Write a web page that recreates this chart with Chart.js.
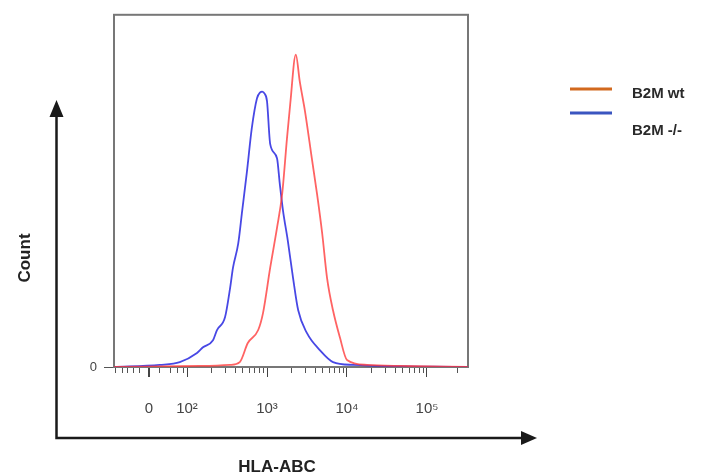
<!DOCTYPE html>
<html><head><meta charset="utf-8">
<script src="https://cdn.jsdelivr.net/npm/chart.js@4.4.1/dist/chart.umd.min.js"></script>
<style>html,body{margin:0;padding:0;background:#fff}canvas{display:block}</style>
</head><body>
<canvas id="c" width="705" height="476"></canvas>
<script>
// Display positions on a biexponential axis (1 unit = one decade; 2 = 10^2)
const seriesNames = ['B2M wt', 'B2M -/-'];
const wtX = [1.09, 2.16, 2.54, 2.66, 2.76, 2.89, 2.95, 3.04, 3.125, 3.19, 3.25, 3.29, 3.36, 3.41, 3.475, 3.56, 3.625, 3.69, 3.75, 3.825, 3.91, 4.0, 4.25, 4.66, 5.51];
const wtY = [0, 0.3, 0.6, 1.4, 6.8, 10.5, 15.3, 28.2, 39.5, 49.2, 65, 74.6, 88.7, 81, 72.6, 59.3, 49.2, 37.9, 25.4, 16.1, 8.5, 2, 0.6, 0.3, 0];
const koX = [1.09, 1.66, 1.91, 2.125, 2.2, 2.325, 2.375, 2.475, 2.54, 2.575, 2.64, 2.69, 2.75, 2.81, 2.875, 2.915, 2.94, 2.97, 3.0, 3.04, 3.125, 3.16, 3.2, 3.26, 3.325, 3.39, 3.5, 3.66, 3.825, 4.075, 5.51];
const koY = [0, 0.6, 1.4, 4, 5.6, 7.6, 10.5, 14.1, 22.6, 28.2, 35, 44.4, 55.6, 67.8, 76.3, 78.0, 78.2, 77.6, 75.5, 63.3, 59.3, 52, 44.4, 35.9, 25.4, 16.1, 9.6, 4.8, 1.4, 0.6, 0];
const majorTickValues = [1.525, 2, 3, 4, 5];
const majorTickLabels = ['0', '10²', '10³', '10⁴', '10⁵'];
const minorTickValues = [1.1, 1.19, 1.26, 1.325, 1.41, 1.66, 1.79, 1.875, 1.95,
  2.301, 2.477, 2.602, 2.699, 2.778, 2.845, 2.903, 2.954,
  3.301, 3.477, 3.602, 3.699, 3.778, 3.845, 3.903, 3.954,
  4.301, 4.477, 4.602, 4.699, 4.778, 4.845, 4.903, 4.954, 5.38];
const yTickValues = [0];
const yTickLabels = ['0'];
const xTitle = 'HLA-ABC';
const yTitle = 'Count';
const lineColors = ['rgba(255,60,60,0.8)', 'rgba(40,40,225,0.85)'];
const legendColors = ['#d2691e', '#3a55c0'];

const FONT = '"Liberation Sans", Arial, "DejaVu Sans", sans-serif';

const frame = {
  id: 'frame',
  beforeDatasetsDraw(chart) {
    const {ctx, chartArea: a} = chart;
    ctx.save();
    ctx.strokeStyle = '#777';
    ctx.lineWidth = 2;
    ctx.strokeRect(a.left, a.top, a.right - a.left, a.bottom - a.top);
    ctx.restore();
  },
  afterDraw(chart) {
    const ctx = chart.ctx;
    ctx.save();
    // outer arrows
    ctx.strokeStyle = '#1a1a1a';
    ctx.fillStyle = '#1a1a1a';
    ctx.lineWidth = 2.5;
    ctx.beginPath();
    ctx.moveTo(56.5, 115); ctx.lineTo(56.5, 438); ctx.lineTo(524, 438);
    ctx.stroke();
    ctx.beginPath();
    ctx.moveTo(56.5, 100); ctx.lineTo(49.5, 117); ctx.lineTo(63.5, 117); ctx.closePath(); ctx.fill();
    ctx.beginPath();
    ctx.moveTo(537, 438); ctx.lineTo(521, 431); ctx.lineTo(521, 445); ctx.closePath(); ctx.fill();
    // titles
    ctx.font = 'bold 17px ' + FONT;
    ctx.fillStyle = '#222';
    ctx.textAlign = 'center';
    ctx.textBaseline = 'middle';
    ctx.fillText(xTitle, 277, 467);
    ctx.save();
    ctx.translate(25, 258);
    ctx.rotate(-Math.PI / 2);
    ctx.fillText(yTitle, 0, 0);
    ctx.restore();
    // legend
    ctx.font = 'bold 15px ' + FONT;
    const lineY = [89, 113], textY = [94, 131];
    seriesNames.forEach((n, i) => {
      ctx.strokeStyle = legendColors[i];
      ctx.lineWidth = 3;
      ctx.beginPath(); ctx.moveTo(570, lineY[i]); ctx.lineTo(612, lineY[i]); ctx.stroke();
      ctx.fillStyle = '#2a2a2a';
      ctx.textAlign = 'left';
      ctx.fillText(n, 632, textY[i]);
    });
    ctx.restore();
  }
};

const mk = (xs, ys) => xs.map((x, i) => ({x, y: ys[i]}));

new Chart(document.getElementById('c'), {
  type: 'line',
  data: {
    datasets: [
      {label: seriesNames[0], data: mk(wtX, wtY), borderColor: lineColors[0], borderWidth: 1.8, pointRadius: 0, cubicInterpolationMode: 'monotone', fill: false},
      {label: seriesNames[1], data: mk(koX, koY), borderColor: lineColors[1], borderWidth: 1.8, pointRadius: 0, cubicInterpolationMode: 'monotone', fill: false}
    ]
  },
  options: {
    responsive: false,
    animation: false,
    layout: {padding: {left: 0, top: 13, right: 237, bottom: 0}},
    plugins: {legend: {display: false}, tooltip: {enabled: false}},
    scales: {
      x2: {
        type: 'linear', position: 'bottom', weight: 0, min: 1.0875, max: 5.5125,
        afterFit(s) { s.height = 0; },
        afterBuildTicks(s) { s.ticks = minorTickValues.map(v => ({value: v})); },
        grid: {drawOnChartArea: false, tickLength: 6, color: '#555', lineWidth: 1},
        border: {display: false},
        ticks: {autoSkip: false, maxRotation: 0, minRotation: 0, callback: () => ''}
      },
      x: {
        type: 'linear', position: 'bottom', weight: 1, min: 1.0875, max: 5.5125,
        afterFit(s) { s.height = 109; },
        afterBuildTicks(s) { s.ticks = majorTickValues.map(v => ({value: v})); },
        grid: {drawOnChartArea: false, tickLength: 10, color: '#444', lineWidth: (c) => c.index === 0 ? 2 : 1},
        border: {display: false},
        ticks: {autoSkip: false, maxRotation: 0, minRotation: 0, padding: 23, color: '#444',
          font: {family: FONT, size: 15},
          callback: (v, i) => majorTickLabels[i]}
      },
      y: {
        type: 'linear', position: 'left', min: 0, max: 100,
        afterFit(s) { s.width = 114; },
        afterBuildTicks(s) { s.ticks = yTickValues.map(v => ({value: v})); },
        grid: {drawOnChartArea: false, tickLength: 10, color: '#555'},
        border: {display: false},
        ticks: {padding: 7, color: '#444', font: {family: FONT, size: 13},
          callback: (v, i) => yTickLabels[i]}
      }
    }
  },
  plugins: [frame]
});
</script>
</body></html>
